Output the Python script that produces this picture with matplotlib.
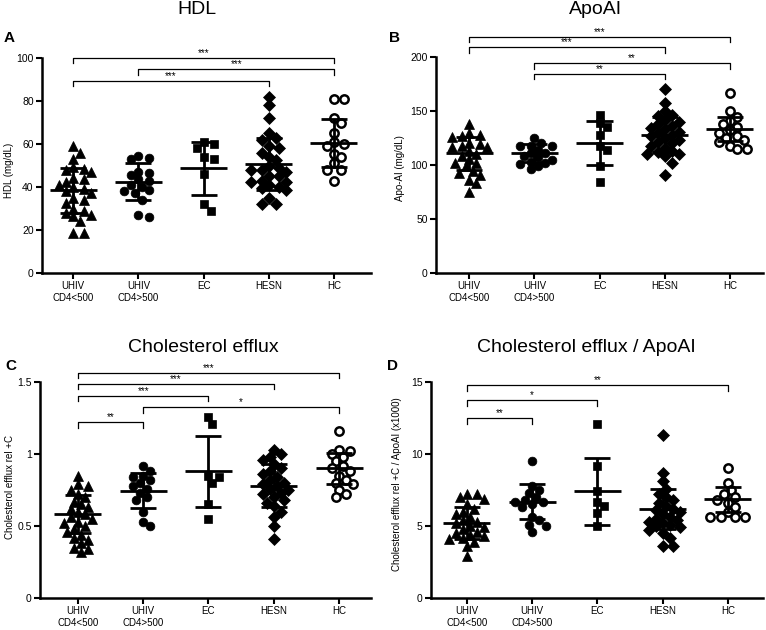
import numpy as np
import matplotlib.pyplot as plt

plt.rcParams['font.family'] = ['Liberation Sans', 'DejaVu Sans']

# Groups and values
##############################################################################
groups = ['UHIV\nCD4<500', 'UHIV\nCD4>500', 'EC', 'HESN', 'HC']

hdl_uhiv_low = [59, 56, 53, 49.5, 48.5, 48, 47, 44, 43.5, 42.5, 41, 40, 39, 38, 37,
                35, 34, 32.5, 30, 29, 28, 27, 26.5, 24, 18.5, 18.5]
hdl_uhiv_high = [54.5, 53.5, 53, 47, 46.5, 45.5, 43.5, 43, 41, 40, 38.5, 38, 37, 34, 27, 26]
hdl_ec = [61, 60, 58, 54, 53, 46, 32, 29]
hdl_hesn = [82, 78, 72, 65, 63, 62, 59, 58, 56, 54, 52.5, 50, 49, 48, 48, 47, 45, 45,
            43, 42.5, 42.5, 41, 40, 39.5, 38.5, 35, 32, 32]
hdl_hc = [81, 81, 72, 70, 65, 61, 60, 59, 55.5, 54, 51, 48, 48, 43]
hdl_mean = [38.4, 42.5, 48.7, 50.8, 60.6]
hdl_sd = [10.6, 8.5, 12.2, 12.2, 11.2]

apo_uhiv_low = [138, 130, 128, 126.5, 126, 120, 119.5, 117.5, 117, 117, 113, 110, 108,
                105.5, 102, 102, 99, 94, 93, 91, 86.5, 83, 75]
apo_uhiv_high = [125, 120, 118, 118, 118, 114, 111, 111, 108, 107, 105, 103, 102, 101, 99, 96]
apo_ec = [146, 139, 135, 128, 118, 114, 99, 84]
apo_hesn = [170, 157, 150, 146, 145, 142, 140, 138, 136, 134, 133, 131, 130, 128, 127,
            125, 123, 121, 120, 118, 116, 113, 112, 110, 110, 108, 102, 91]
apo_hc = [167, 150, 144, 141, 138, 135, 132, 130, 127, 125, 123, 121, 118, 115, 115]
apo_mean = [110.8, 111, 120.5, 128, 133]
apo_sd = [15, 8.5, 20.5, 16, 11]

ce_uhiv_low = [0.85, 0.79, 0.78, 0.75, 0.72, 0.70, 0.67, 0.65, 0.63, 0.62, 0.60, 0.58,
               0.56, 0.55, 0.53, 0.52, 0.50, 0.48, 0.46, 0.44, 0.42, 0.40, 0.38, 0.35,
               0.34, 0.32]
ce_uhiv_high = [0.92, 0.88, 0.85, 0.84, 0.82, 0.80, 0.78, 0.76, 0.73, 0.70, 0.68, 0.60,
                0.53, 0.50]
ce_ec = [1.26, 1.21, 0.85, 0.84, 0.80, 0.65, 0.55]
ce_hesn = [1.03, 1.00, 0.98, 0.96, 0.93, 0.90, 0.88, 0.86, 0.84, 0.82, 0.80, 0.79, 0.78,
           0.76, 0.75, 0.73, 0.72, 0.70, 0.68, 0.66, 0.64, 0.60, 0.56, 0.50, 0.41]
ce_hc = [1.16, 1.03, 1.02, 1.00, 0.98, 0.95, 0.92, 0.90, 0.88, 0.85, 0.82, 0.80, 0.79,
         0.75, 0.72, 0.70]
ce_mean = [0.583, 0.745, 0.88, 0.78, 0.90]
ce_sd = [0.135, 0.12, 0.245, 0.15, 0.11]

ratio_uhiv_low = [7.2, 7.2, 7.0, 6.9, 6.5, 6.2, 6.0, 5.8, 5.6, 5.4, 5.3, 5.2, 5.0, 4.9,
                  4.8, 4.6, 4.5, 4.4, 4.3, 4.2, 4.1, 3.9, 3.6, 2.9]
ratio_uhiv_high = [9.5, 7.8, 7.5, 7.3, 7.0, 6.8, 6.7, 6.7, 6.5, 6.3, 5.6, 5.4, 5.1, 5.0, 4.6]
ratio_ec = [12.1, 9.2, 7.4, 6.7, 6.4, 5.9, 5.0]
ratio_hesn = [11.3, 8.7, 8.1, 7.6, 7.2, 7.0, 6.8, 6.6, 6.4, 6.2, 6.1, 6.0, 5.8, 5.6, 5.5,
              5.4, 5.3, 5.2, 5.1, 5.0, 4.9, 4.7, 4.5, 4.2, 3.6, 3.6]
ratio_hc = [9.0, 8.0, 7.5, 7.2, 7.0, 6.8, 6.6, 6.3, 6.0, 5.6, 5.6, 5.6, 5.6]
ratio_mean = [5.2, 6.7, 7.4, 6.17, 6.87]
ratio_sd = [1.1, 1.2, 2.3, 1.37, 0.87]

# significance brackets: (group i, group j, height, label)
hdl_sig = [(0, 4, 100, '***'), (1, 4, 94.8, '***'), (0, 3, 89.3, '***')]
apo_sig = [(0, 4, 218.5, '***'), (0, 3, 209, '***'), (1, 4, 194, '**'), (1, 3, 184.6, '**')]
ce_sig = [(0, 4, 1.5625, '***'), (0, 3, 1.488, '***'), (0, 2, 1.405, '***'),
          (1, 4, 1.324, '*'), (0, 1, 1.22, '**')]
ratio_sig = [(0, 4, 14.77, '**'), (0, 2, 13.73, '*'), (0, 1, 12.49, '**')]

# marker style per group
markers = [('^', 'black'), ('o', 'black'), ('s', 'black'), ('D', 'black'), ('o', 'white')]
msizes = [7.0, 6.3, 6.0, 5.8, 6.0]

W, H = 766, 630


def rect(left, right, top, bottom):
    return [left / W, 1 - bottom / H, (right - left) / W, (bottom - top) / H]


def swarm_offsets(ax, xc, vals, dmin=7.5, step=3.5, maxw=18):
    """Greedy beeswarm in pixel space, returns x offsets in data units."""
    pts = ax.transData.transform(np.column_stack([np.full(len(vals), xc), vals]))
    ypx = pts[:, 1]
    order = np.argsort(-ypx)
    cands = [0.0]
    k = 1
    while k * step <= maxw:
        cands += [k * step, -k * step]
        k += 1
    placed = []
    offs = np.zeros(len(vals))
    for i in order:
        chosen, bestc, bestd = None, 0.0, -1
        for c in cands:
            if placed:
                d = min(np.hypot(c - px, ypx[i] - py) for px, py in placed)
            else:
                d = np.inf
            if d >= dmin:
                chosen = c
                break
            if d > bestd:
                bestd, bestc = d, c
        if chosen is None:
            chosen = bestc
        offs[i] = chosen
        placed.append((chosen, ypx[i]))
    ppu = ax.transData.transform((1, 0))[0] - ax.transData.transform((0, 0))[0]
    return offs / ppu


def draw_panel(fig, r, xlim, ylim, yticks, yticklabels, values, means, sds, sig):
    ax = fig.add_axes(r)
    ax.set_xlim(*xlim)
    ax.set_ylim(*ylim)
    for s in ['top', 'right']:
        ax.spines[s].set_visible(False)
    for s in ['left', 'bottom']:
        ax.spines[s].set_linewidth(1.8)
    ax.set_yticks(yticks)
    ax.set_yticklabels(yticklabels, fontsize=7.5)
    ax.set_xticks(range(len(groups)))
    ax.set_xticklabels(groups, fontsize=7)
    ax.tick_params(axis='both', direction='out', length=4, width=1.5, pad=2)

    for k, vals in enumerate(values):
        offs = swarm_offsets(ax, k, vals)
        mk, fc = markers[k]
        ax.plot(k + offs, vals, linestyle='none', marker=mk, ms=msizes[k],
                mfc=fc, mec='black', mew=1.8 if fc == 'white' else 0.5, zorder=2)
        m, sd = means[k], sds[k]
        ax.hlines(m, k - 0.36, k + 0.36, color='black', lw=2, zorder=3)
        ax.vlines(k, m - sd, m + sd, color='black', lw=2, zorder=3)
        ax.hlines([m - sd, m + sd], k - 0.2, k + 0.2, color='black', lw=2, zorder=3)

    tick = 0.025 * ylim[1]
    for i, j, y, lab in sig:
        ax.plot([i, i, j, j], [y - tick, y, y, y - tick], color='black', lw=0.9,
                clip_on=False, zorder=4)
        ax.annotate(lab, xy=((i + j) / 2, y), xytext=(0, 0), textcoords='offset points',
                    ha='center', va='bottom', fontsize=7, annotation_clip=False)
    return ax


fig = plt.figure(figsize=(W / 100, H / 100), dpi=100)

draw_panel(fig, rect(42, 371, 58, 273), (-0.48, 4.57), (0, 100),
           [0, 20, 40, 60, 80, 100], ['0', '20', '40', '60', '80', '100'],
           [hdl_uhiv_low, hdl_uhiv_high, hdl_ec, hdl_hesn, hdl_hc], hdl_mean, hdl_sd, hdl_sig)
draw_panel(fig, rect(436, 763, 57, 273), (-0.51, 4.51), (0, 200),
           [0, 50, 100, 150, 200], ['0', '50', '100', '150', '200'],
           [apo_uhiv_low, apo_uhiv_high, apo_ec, apo_hesn, apo_hc], apo_mean, apo_sd, apo_sig)
draw_panel(fig, rect(40, 371, 382, 598), (-0.58, 4.49), (0, 1.5),
           [0, 0.5, 1, 1.5], ['0', '0.5', '1', '1.5'],
           [ce_uhiv_low, ce_uhiv_high, ce_ec, ce_hesn, ce_hc], ce_mean, ce_sd, ce_sig)
draw_panel(fig, rect(431, 763, 382, 598), (-0.55, 4.54), (0, 15),
           [0, 5, 10, 15], ['0', '5', '10', '15'],
           [ratio_uhiv_low, ratio_uhiv_high, ratio_ec, ratio_hesn, ratio_hc],
           ratio_mean, ratio_sd, ratio_sig)

# Titles, panel letters and y labels
fig.text(197 / W, 1 - 10 / H, 'HDL', ha='center', va='center', fontsize=14)
fig.text(596 / W, 1 - 10 / H, 'ApoAI', ha='center', va='center', fontsize=14)
fig.text(203 / W, 1 - 348 / H, 'Cholesterol efflux', ha='center', va='center', fontsize=14)
fig.text(586 / W, 1 - 348 / H, 'Cholesterol efflux / ApoAI', ha='center', va='center',
         fontsize=14)

for lx, ly, lab in [(9, 38, 'A'), (394, 38, 'B'), (11, 366, 'C'), (392, 366, 'D')]:
    fig.text(lx / W, 1 - ly / H, lab, ha='center', va='center', fontsize=11, fontweight='bold')

for lx, ly, lab in [(9, 170, 'HDL (mg/dL)'), (400, 168, 'Apo-AI (mg/dL)'),
                    (10, 487, 'Cholesterol efflux rel +C'),
                    (397, 484, 'Cholesterol efflux rel +C / ApoAI (x1000)')]:
    fig.text(lx / W, 1 - ly / H, lab, ha='center', va='center', rotation=90, fontsize=7)

fig.savefig('out.png', dpi=100)
